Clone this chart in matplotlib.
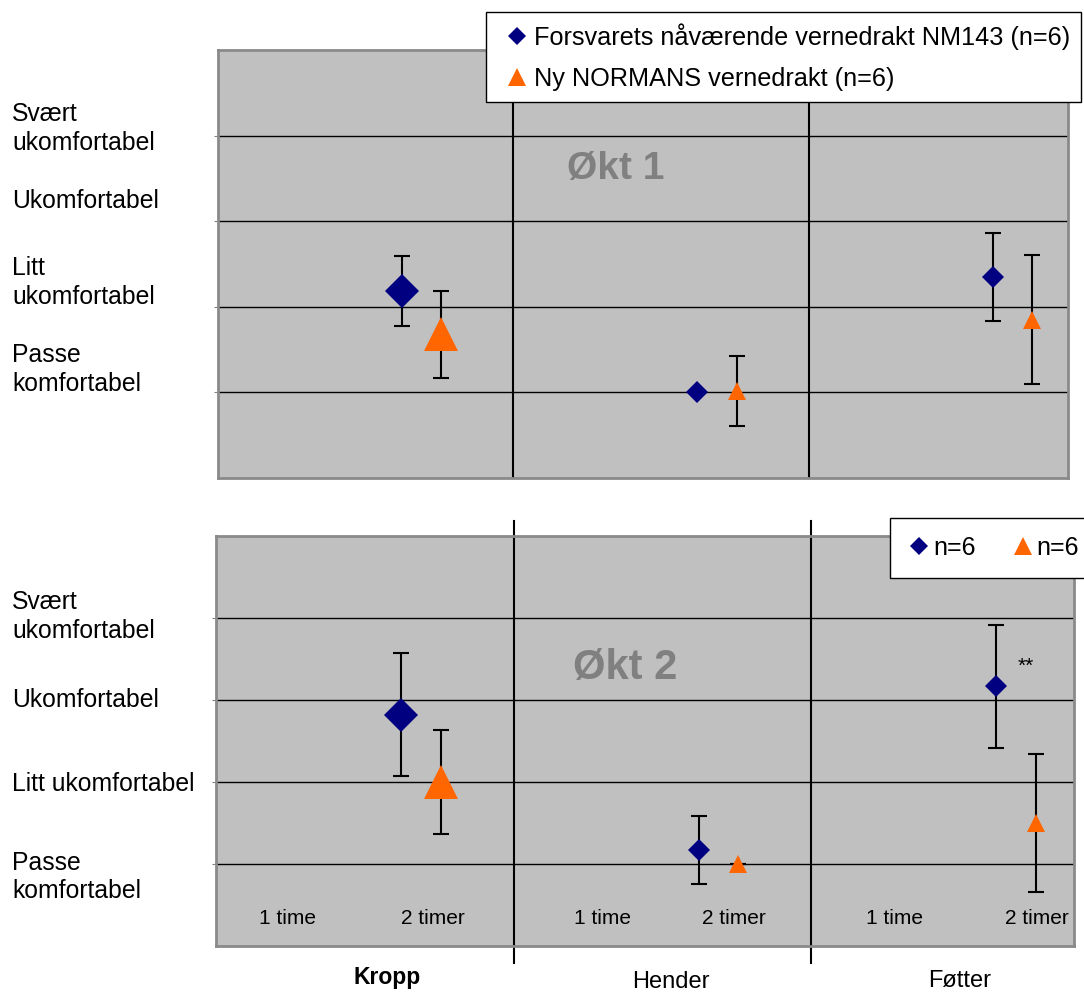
import matplotlib.pyplot as plt
from matplotlib.lines import Line2D
from matplotlib.transforms import blended_transform_factory

plt.rcParams['font.family'] = ['Liberation Sans', 'DejaVu Sans']

# ── Data ──
groups = ["Kropp", "Hender", "Føtter"]
periods = ["1 time", "2 timer"]
series_names = ["Forsvarets nåværende vernedrakt NM143 (n=6)", "Ny NORMANS vernedrakt (n=6)"]
scale_top = ["Passe\nkomfortabel", "Litt\nukomfortabel", "Ukomfortabel", "Svært\nukomfortabel"]
scale_bottom = ["Passe\nkomfortabel", "Litt ukomfortabel", "Ukomfortabel", "Svært\nukomfortabel"]

# Økt 1, measured after 2 timer
okt1_nm143 = [2.18, 1.0, 2.35]
okt1_nm143_sd = [0.41, 0.0, 0.51]
okt1_normans = [1.68, 1.02, 1.85]
okt1_normans_sd = [0.51, 0.41, 0.75]

# Økt 2, measured after 2 timer
okt2_nm143 = [2.82, 1.17, 3.17]
okt2_nm143_sd = [0.75, 0.41, 0.75]
okt2_normans = [2.0, 1.0, 1.5]
okt2_normans_sd = [0.63, 0.0, 0.84]

# ── Layout / style ──
NAVY = "#000080"
ORANGE = "#FF6600"
BG = "#C0C0C0"
diamond_ms = [17, 10.7, 10.7]
triangle_ms = [24, 12.6, 12.6]
diamond_off = 0.622
triangle_off = 0.756
top_label_pos = [1.27, 2.28, 3.24, 4.08]
bottom_label_pos = [0.84, 1.97, 3.0, 4.02]
period_x = [[0.24, 0.73], [1.30, 1.74], [2.28, 2.76]]

fig = plt.figure(figsize=(10.84, 9.94), dpi=100)
ax1 = fig.add_axes([0.2011, 0.5191, 0.784, 0.4306])
ax2 = fig.add_axes([0.1993, 0.0483, 0.7915, 0.4125])


def draw_panel(ax, nm, nm_sd, nr, nr_sd, xmax):
    ax.set_facecolor(BG)
    ax.set_xlim(0, xmax)
    ax.set_ylim(0, 5)
    ax.set_xticks([])
    ax.set_yticks([1, 2, 3, 4])
    ax.set_yticklabels([])
    ax.tick_params(axis='y', length=3, color='#808080')
    ax.grid(axis='y', color='black', linewidth=1.0)
    ax.set_axisbelow(True)
    for s in ax.spines.values():
        s.set_color('#8a8a8a')
        s.set_linewidth(2)
    for g in range(len(groups)):
        xd = g + diamond_off
        xt = g + triangle_off
        ax.errorbar([xd], [nm[g]], yerr=[nm_sd[g]], fmt='none', ecolor='black',
                    elinewidth=1.5, capsize=5.5, capthick=1.5, zorder=3)
        ax.errorbar([xt], [nr[g]], yerr=[nr_sd[g]], fmt='none', ecolor='black',
                    elinewidth=1.5, capsize=5.5, capthick=1.5, zorder=3)
        ax.plot(xd, nm[g], marker='D', color=NAVY, markersize=diamond_ms[g],
                markeredgewidth=0, zorder=4)
        ax.plot(xt, nr[g], marker='^', color=ORANGE, markersize=triangle_ms[g],
                markeredgewidth=0, zorder=4)


draw_panel(ax1, okt1_nm143, okt1_nm143_sd, okt1_normans, okt1_normans_sd, 2.877)
draw_panel(ax2, okt2_nm143, okt2_nm143_sd, okt2_normans, okt2_normans_sd, 2.884)

# group dividers
for d in [1, 2]:
    ax1.axvline(d, color='black', linewidth=1.5, zorder=2)
    ax2.plot([d, d], [-0.21, 5.18], color='black', linewidth=1.5, clip_on=False, zorder=2)

# session titles
ax1.text(1.347, 3.61, "Økt 1", color='#808080', fontsize=28, fontweight='bold',
         ha='center', va='center')
ax2.text(1.375, 3.39, "Økt 2", color='#808080', fontsize=30, fontweight='bold',
         ha='center', va='center')

# significance marker next to Føtter, NM143
ax2.text(2 + diamond_off + 0.1, okt2_nm143[2] + 0.24, "**", fontsize=15,
         ha='center', va='center')

# comfort scale labels on the left
for ax, labels, pos in [(ax1, scale_top, top_label_pos), (ax2, scale_bottom, bottom_label_pos)]:
    tr = blended_transform_factory(fig.transFigure, ax.transData)
    for lab, y in zip(labels, pos):
        ax.text(12 / 1084, y, lab, transform=tr, fontsize=17.8,
                ha='left', va='center', linespacing=1.25, clip_on=False)

# period labels inside the bottom panel
for g in range(len(groups)):
    for p, lab in enumerate(periods):
        ax2.text(period_x[g][p], 0.33, lab, fontsize=15, ha='center', va='center')

# group labels below
group_x = [0.575, 1.53, 2.50]
group_y = [-0.38, -0.44, -0.43]
for g, name in enumerate(groups):
    ax2.text(group_x[g], group_y[g], name, fontsize=17 if g else 16.5,
             fontweight='bold' if g == 0 else 'normal',
             ha='center', va='center', clip_on=False)

# legends
h_nm = Line2D([], [], linestyle='none', marker='D', color=NAVY, markersize=9.2, markeredgewidth=0)
h_nr = Line2D([], [], linestyle='none', marker='^', color=ORANGE, markersize=13, markeredgewidth=0)

leg1 = fig.legend([h_nm, h_nr], series_names, loc='upper left',
                  bbox_to_anchor=(486 / 1084, 1 - 12 / 994), fontsize=18.2,
                  frameon=True, fancybox=False, edgecolor='black', framealpha=1,
                  borderpad=0.43, handlelength=1.62, handletextpad=-0.17,
                  labelspacing=0.7, borderaxespad=0)
leg1.get_frame().set_linewidth(1)

leg2 = fig.legend([h_nm, h_nr], ["n=6", "n=6"], loc='upper left', ncol=2,
                  bbox_to_anchor=(890 / 1084, 1 - 518 / 994), fontsize=18,
                  frameon=True, fancybox=False, edgecolor='black', framealpha=1,
                  borderpad=0.72, handlelength=0.88, handletextpad=0.12,
                  columnspacing=1.45, borderaxespad=0)
leg2.get_frame().set_linewidth(1)

fig.savefig("out.png", dpi=100)
